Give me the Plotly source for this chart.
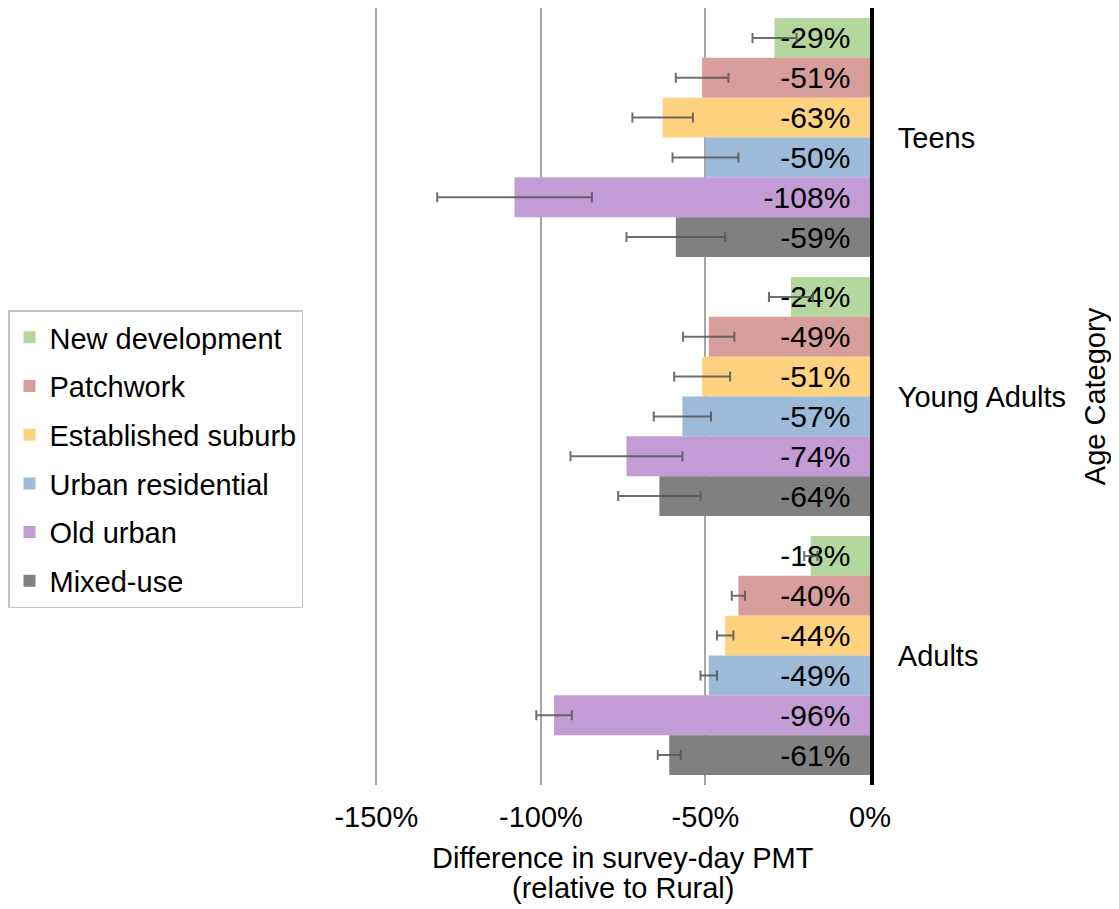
import plotly.graph_objects as go

age_categories = ["Teens", "Young Adults", "Adults"]
series_names = ["New development", "Patchwork", "Established suburb",
                "Urban residential", "Old urban", "Mixed-use"]
colors = ["#b4d79e", "#d79d9b", "#ffd27f", "#9dbbd8", "#c39cd6", "#808080"]

# values in percent, one list per series: [Teens, Young Adults, Adults]
new_development = [-29, -24, -18]
patchwork = [-51, -49, -40]
established_suburb = [-63, -51, -44]
urban_residential = [-50, -57, -49]
old_urban = [-108, -74, -96]
mixed_use = [-59, -64, -61]

# error bar half-widths (percent points)
err_new_development = [6.7, 6.7, 2.0]
err_patchwork = [8.0, 7.8, 2.0]
err_established_suburb = [9.2, 8.5, 2.5]
err_urban_residential = [10.0, 8.7, 2.5]
err_old_urban = [23.5, 17.0, 5.4]
err_mixed_use = [15.0, 12.5, 3.5]

x_tick_values = [-150, -100, -50, 0]
x_tick_labels = ["-150%", "-100%", "-50%", "0%"]

values = [new_development, patchwork, established_suburb,
          urban_residential, old_urban, mixed_use]
errors = [err_new_development, err_patchwork, err_established_suburb,
          err_urban_residential, err_old_urban, err_mixed_use]

FONT = "Liberation Sans, Arial, sans-serif"
FS = 29

fig = go.Figure()
for name, col, vals, errs in zip(series_names, colors, values, errors):
    fig.add_trace(go.Bar(
        y=age_categories, x=vals, name=name, orientation="h",
        legendgroup=name,
        marker=dict(color=col, line=dict(width=0)),
        text=[f"{v}%\u00a0\u00a0" for v in vals],
        textposition="inside", insidetextanchor="start",
        constraintext="none", cliponaxis=False,
        textfont=dict(family=FONT, size=30, color="black"),
        error_x=dict(type="data", array=errs, symmetric=True,
                     color="rgba(85,85,85,0.85)", thickness=2, width=5),
    ))

fig.add_annotation(text="Difference in survey-day PMT", xref="paper", yref="paper",
                   x=0.5, y=-0.094, xanchor="center", yanchor="middle",
                   showarrow=False, font=dict(size=FS))
fig.add_annotation(text="(relative to Rural)", xref="paper", yref="paper",
                   x=0.5, y=-0.1326, xanchor="center", yanchor="middle",
                   showarrow=False, font=dict(size=FS))

fig.update_layout(
    width=1111, height=901,
    margin=dict(l=367, r=249, t=0, b=124, autoexpand=False),
    barmode="group", bargap=0.077, bargroupgap=0,
    plot_bgcolor="white", paper_bgcolor="white",
    font=dict(family=FONT, size=FS, color="black"),
    legend=dict(x=-0.7414, xanchor="left", y=0.419, yanchor="middle",
                bordercolor="#c4c4c4", borderwidth=1.5,
                font=dict(size=FS), traceorder="grouped",
                itemwidth=30, tracegroupgap=8),
    xaxis=dict(range=[-150.4, 0], tickvals=x_tick_values,
               ticktext=x_tick_labels,
               showgrid=True, gridcolor="#a6a6a6", gridwidth=1.5,
               zeroline=False, showline=False, ticks="",
               ticklabelstandoff=12,
               tickfont=dict(size=FS)),
    yaxis=dict(side="right", autorange="reversed", showgrid=False,
               showline=True, linecolor="black", linewidth=4,
               ticks="", ticklabelstandoff=18,
               tickfont=dict(size=FS),
               title=dict(text="Age Category", font=dict(size=FS), standoff=21)),
)

fig.write_html("out.html")
